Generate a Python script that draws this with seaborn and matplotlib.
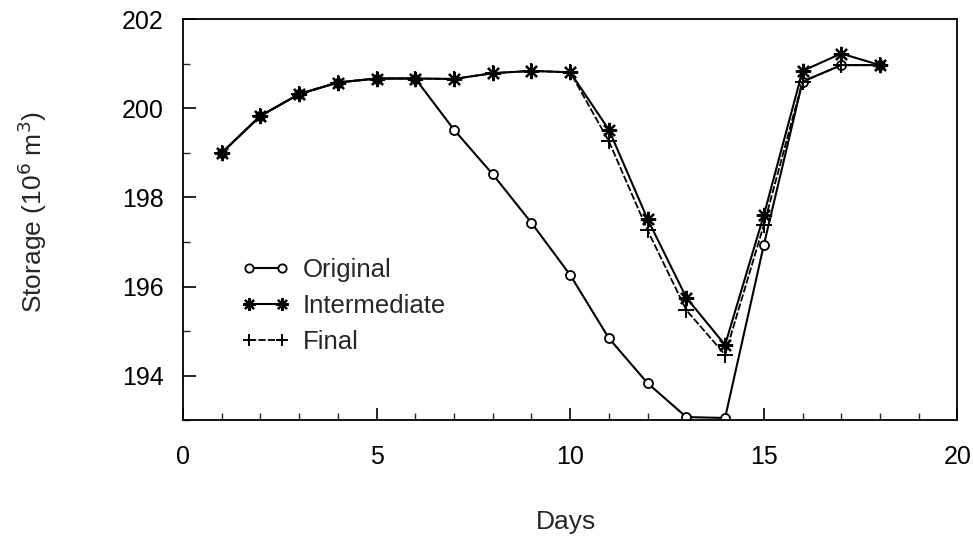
import numpy as np
import pandas as pd
import matplotlib
matplotlib.use("Agg")
import matplotlib.pyplot as plt
from matplotlib.ticker import MultipleLocator
import seaborn as sns

days = [1, 2, 3, 4, 5, 6, 7, 8, 9, 10, 11, 12, 13, 14, 15, 16, 17, 18]
original = [199.0, 199.83, 200.32, 200.58, 200.67, 200.67, 199.52, 198.52, 197.43,
            196.26, 194.84, 193.83, 193.07, 193.05, 196.93, 200.60, 200.97, 200.97]
intermediate = [199.0, 199.83, 200.32, 200.58, 200.67, 200.67, 200.66, 200.79, 200.84,
                200.81, 199.52, 197.51, 195.75, 194.69, 197.60, 200.84, 201.23, 200.97]
final = [199.0, 199.83, 200.32, 200.58, 200.67, 200.67, 200.66, 200.79, 200.84,
         200.81, 199.26, 197.26, 195.47, 194.47, 197.38, 200.60, 200.97, 200.97]

sns.set_theme(style="ticks")
plt.rcParams['font.family'] = ['Liberation Sans', 'DejaVu Sans']

fig = plt.figure(figsize=(9.73, 5.5), dpi=100)
ax = fig.add_axes([0.188, 0.236, 0.796, 0.729])

df = pd.DataFrame({"Days": days, "Original": original,
                   "Intermediate": intermediate, "Final": final})

sns.lineplot(data=df, x="Days", y="Original", ax=ax, color="black", lw=1.5,
             marker="o", markersize=6.5, markerfacecolor="white",
             markeredgecolor="black", markeredgewidth=1.3, label="Original")
sns.lineplot(data=df, x="Days", y="Intermediate", ax=ax, color="black", lw=1.5,
             marker=(8, 2, 0), markersize=11, markeredgewidth=1.6,
             markeredgecolor="black", label="Intermediate")
sns.lineplot(data=df, x="Days", y="Final", ax=ax, color="black", lw=1.3,
             linestyle=(0, (4, 1.2)),
             marker="+", markersize=11, markeredgewidth=1.4,
             markeredgecolor="black", label="Final")

ax.set_xlim(0, 20)
ax.set_ylim(193, 202)
ax.xaxis.set_major_locator(MultipleLocator(5))
ax.xaxis.set_minor_locator(MultipleLocator(1))
ax.yaxis.set_major_locator(MultipleLocator(2))
ax.yaxis.set_minor_locator(MultipleLocator(1))
ax.set_yticks([194, 196, 198, 200, 202])
ax.tick_params(which="major", direction="in", length=9, width=1.2,
               labelsize=18, colors="black")
ax.tick_params(axis="x", which="major", pad=18)
ax.tick_params(axis="y", which="major", pad=14)
ax.tick_params(which="minor", direction="in", length=5, width=1.0)
for s in ax.spines.values():
    s.set_visible(True)
    s.set_linewidth(1.3)
    s.set_color("black")

ax.set_xlabel("Days", fontsize=19)
ax.set_ylabel("Storage (10$^6$ m$^3$)", fontsize=19)
ax.xaxis.label.set_va("center")
ax.yaxis.label.set_va("center")
ax.xaxis.set_label_coords(0.495, -0.255)
ax.yaxis.set_label_coords(-0.195, 0.52)

leg = ax.legend(loc="upper left", bbox_to_anchor=(0.062, 0.43), frameon=False,
                fontsize=18.5, handlelength=1.9, handletextpad=0.5,
                labelspacing=0.47, borderaxespad=0, numpoints=2)
sizes = [6, 9, 9]
for h, ms in zip(leg.legend_handles, sizes):
    h.set_markersize(ms)

fig.savefig("out.png", dpi=100, facecolor="white")
